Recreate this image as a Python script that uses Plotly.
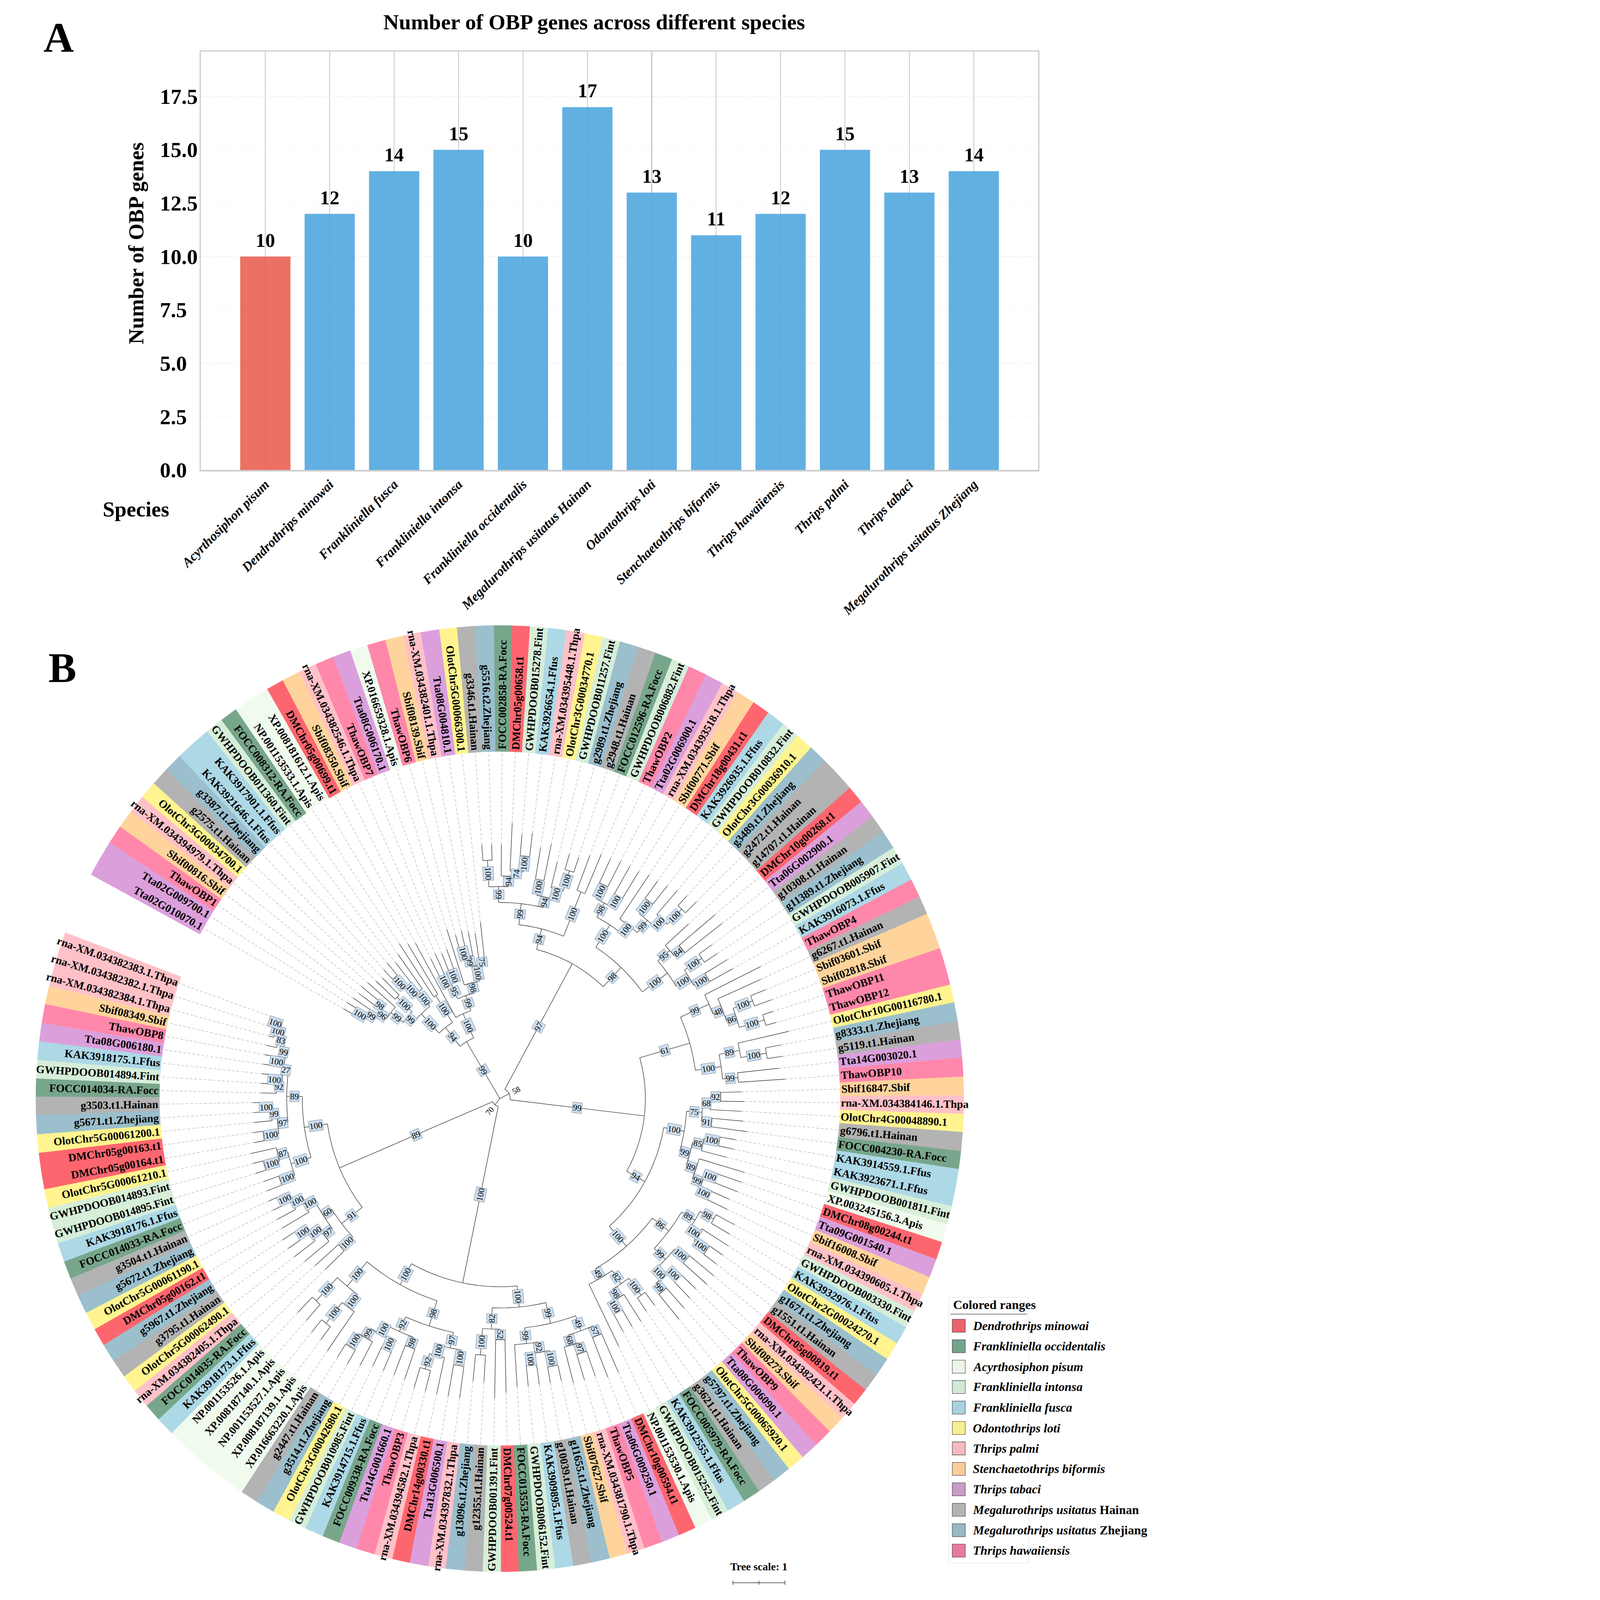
import math
import plotly.graph_objects as go

W, H = 4282, 5916

# ---------------- panel A data
species = ["Acyrthosiphon pisum", "Dendrothrips minowai", "Frankliniella fusca",
           "Frankliniella intonsa", "Frankliniella occidentalis",
           "Megalurothrips usitatus Hainan", "Odontothrips loti",
           "Stenchaetothrips biformis", "Thrips hawaiiensis", "Thrips palmi",
           "Thrips tabaci", "Megalurothrips usitatus Zhejiang"]
obp_counts = [10, 12, 14, 15, 10, 17, 13, 11, 12, 15, 13, 14]
value_ticks = [0.0, 2.5, 5.0, 7.5, 10.0, 12.5, 15.0, 17.5]

# ---------------- panel B data
leaf_names = [
    "Tta02G010070.1", "Tta02G009700.1", "ThawOBP1", "Sbif00816.Sbif", "rna-XM.034394979.1.Thpa",
    "OlotChr3G00034700.1", "g2575.t1.Hainan", "g3387.t1.Zhejiang", "KAK3921646.1.Ffus", "KAK3917901.1.Ffus",
    "GWHPDOOB011360.Fint", "FOCC008312-RA.Focc", "NP.001153533.1.Apis", "XP.008181612.1.Apis", "DMChr05g00699.t1",
    "Sbif08350.Sbif", "rna-XM.034382546.1.Thpa", "ThawOBP7", "Tta08G006170.1", "XP.016659328.1.Apis",
    "ThawOBP6", "Sbif08139.Sbif", "rna-XM.034382401.1.Thpa", "Tta08G004810.1", "OlotChr5G00066300.1",
    "g3346.t1.Hainan", "g5516.t2.Zhejiang", "FOCC002858-RA.Focc", "DMChr05g00658.t1", "GWHPDOOB015278.Fint",
    "KAK3926654.1.Ffus", "rna-XM.034395448.1.Thpa", "OlotChr3G00034770.1", "GWHPDOOB011257.Fint", "g2989.t1.Zhejiang",
    "g2948.t1.Hainan", "FOCC012596-RA.Focc", "GWHPDOOB006882.Fint", "ThawOBP2", "Tta02G006900.1",
    "rna-XM.034393518.1.Thpa", "Sbif00771.Sbif", "DMChr18g00431.t1", "KAK3926935.1.Ffus", "GWHPDOOB010832.Fint",
    "OlotChr3G00036910.1", "g3489.t1.Zhejiang", "g2472.t1.Hainan", "g14707.t1.Hainan", "DMChr10g00268.t1",
    "Tta06G002900.1", "g10308.t1.Hainan", "g11389.t1.Zhejiang", "GWHPDOOB005907.Fint", "KAK3916073.1.Ffus",
    "ThawOBP4", "g6267.t1.Hainan", "Sbif03601.Sbif", "Sbif02818.Sbif", "ThawOBP11",
    "ThawOBP12", "OlotChr10G00116780.1", "g8333.t1.Zhejiang", "g5119.t1.Hainan", "Tta14G003020.1",
    "ThawOBP10", "Sbif16847.Sbif", "rna-XM.034384146.1.Thpa", "OlotChr4G00048890.1", "g6796.t1.Hainan",
    "FOCC004230-RA.Focc", "KAK3914559.1.Ffus", "KAK3923671.1.Ffus", "GWHPDOOB001811.Fint", "XP.003245156.3.Apis",
    "DMChr08g00244.t1", "Tta09G001540.1", "Sbif16008.Sbif", "rna-XM.034390605.1.Thpa", "GWHPDOOB003330.Fint",
    "KAK3932976.1.Ffus", "OlotChr2G00024270.1", "g1671.t1.Zhejiang", "g1551.t1.Hainan", "DMChr05g00819.t1",
    "rna-XM.034382421.1.Thpa", "Sbif08273.Sbif", "ThawOBP9", "Tta08G006090.1", "OlotChr5G00065920.1",
    "g5797.t1.Zhejiang", "g3621.t1.Hainan", "FOCC005979-RA.Focc", "KAK3912555.1.Ffus", "GWHPDOOB015252.Fint",
    "NP.001153530.1.Apis", "DMChr10g00594.t1", "Tta06G009250.1", "ThawOBP5", "rna-XM.034381790.1.Thpa",
    "Sbif07627.Sbif", "g11655.t1.Zhejiang", "g10039.t1.Hainan", "KAK3909895.1.Ffus", "GWHPDOOB006152.Fint",
    "FOCC013553-RA.Focc", "DMChr07g00524.t1", "GWHPDOOB001391.Fint", "g12355.t1.Hainan", "g13096.t1.Zhejiang",
    "rna-XM.034397832.1.Thpa", "Tta13G006500.1", "DMChr14g00330.t1", "rna-XM.034394582.1.Thpa", "ThawOBP3",
    "Tta14G001660.1", "FOCC009338-RA.Focc", "KAK3914715.1.Ffus", "GWHPDOOB010985.Fint", "OlotChr3G00042680.1",
    "g3514.t1.Zhejiang", "g2447.t1.Hainan", "XP.016663220.1.Apis", "XP.008187139.1.Apis", "NP.001153527.1.Apis",
    "XP.008187140.1.Apis", "NP.001153526.1.Apis", "KAK3918173.1.Ffus", "FOCC014035-RA.Focc", "rna-XM.034382405.1.Thpa",
    "OlotChr5G00062490.1", "g3795.t1.Hainan", "g5967.t1.Zhejiang", "DMChr05g00162.t1", "OlotChr5G00061190.1",
    "g5672.t1.Zhejiang", "g3504.t1.Hainan", "FOCC014033-RA.Focc", "KAK3918176.1.Ffus", "GWHPDOOB014895.Fint",
    "GWHPDOOB014893.Fint", "OlotChr5G00061210.1", "DMChr05g00164.t1", "DMChr05g00163.t1", "OlotChr5G00061200.1",
    "g5671.t1.Zhejiang", "g3503.t1.Hainan", "FOCC014034-RA.Focc", "GWHPDOOB014894.Fint", "KAK3918175.1.Ffus",
    "Tta08G006180.1", "ThawOBP8", "Sbif08349.Sbif", "rna-XM.034382384.1.Thpa", "rna-XM.034382382.1.Thpa",
    "rna-XM.034382383.1.Thpa",
]

# tree topology, leaves are numbered by their position in leaf_names (1-based),
# branch lengths in tree units, internal labels = bootstrap support
og1_thrips = "((((1:0.2,2:0.2)100:0.25,3:0.4)99:0.15,(4:0.4,5:0.45)98:0.1)96:0.2,6:0.7)99"
og1_frank = "(((9:0.25,10:0.3)100:0.3,11:0.5)100:0.2,12:0.8)100"
og1_core = "((" + og1_thrips + ":0.3,(7:0.5,8:0.45)100:0.4)99:0.15," + og1_frank + ":0.35)100"
og1 = "(" + og1_core + ":0.5,(13:1.2,14:1.1)100:0.6)94"
og2 = ("(15:1.6,(((16:0.4,17:0.45)100:0.2,(18:0.35,19:0.4)100:0.25)95:0.3,(20:1.1,"
       "(((21:0.3,22:0.35)100:0.15,23:0.45)99:0.2,(24:0.5,25:0.7)75:0.1)100:0.3)98:0.2)99:0.3)100")
og3 = ("((((26:0.3,27:0.3)100:0.5,(28:0.6,(29:0.9,(30:0.4,31:0.45)100:0.3)74:0.1)94:0.2)99:0.3,"
       "((32:0.6,33:0.7)100:0.3,(34:0.5,(35:0.3,36:0.3)100:0.4)100:0.2)94:0.2)99:0.4,"
       "(37:0.7,38:0.8)100:0.9)94")
og4 = ("((((39:0.5,40:0.55)100:0.3,(41:0.6,42:0.6)100:0.25)98:0.3,(43:1.0,((44:0.4,45:0.45)100:0.3,"
       "(46:0.6,(47:0.25,48:0.3)100:0.4)100:0.2)99:0.3)100:0.2)100:0.5,((49:0.6,(50:0.9,51:0.9)84:0.2)95:0.3,"
       "((52:0.3,53:0.3)100:0.4,(54:0.5,55:0.5)100:0.3)100:0.3)100:0.6)98")
og5 = ("((56:1.2,(57:0.9,((58:0.3,59:0.35)100:0.4,(60:0.2,61:0.2)100:0.5)86:0.2)48:0.2)99:0.6,"
       "((62:1.0,(63:0.3,64:0.3)100:0.5)89:0.4,(65:0.8,66:0.9)99:0.3)100:0.5)61")
og6 = ("((((67:0.4,68:0.45)92:0.2,69:0.6)68:0.15,(70:0.6,71:0.7)91:0.2)75:0.3,"
       "(((72:0.3,73:0.3)100:0.3,74:0.5)85:0.2,(75:0.9,((76:0.5,77:0.5)100:0.2,"
       "(78:0.4,79:0.45)100:0.2)99:0.2)89:0.2)99:0.2)100")
og7 = ("((((80:0.4,81:0.4)98:0.3,(82:0.6,(83:0.3,84:0.3)100:0.3)100:0.2)89:0.3,((85:0.6,86:0.6)100:0.3,"
       "((87:0.4,88:0.45)100:0.2,(89:0.5,90:0.6)99:0.2)100:0.2)99:0.3)86:0.4,(((91:0.3,92:0.3)100:0.4,"
       "(93:0.6,(94:0.4,95:0.4)100:0.2)98:0.2)82:0.3,96:1.3)49:0.2)100")
og8 = ("((((97:0.8,98:0.8)57:0.2,((99:0.5,100:0.5)97:0.2,101:0.7)68:0.2)49:0.3,"
       "(((102:0.3,103:0.3)100:0.3,(104:0.4,105:0.4)100:0.2)92:0.2,106:0.8)99:0.3)99:0.4,"
       "((107:1.0,108:1.1)52:0.2,(109:0.5,110:0.5)100:0.5)82:0.4)100")
og9 = ("((((111:0.6,112:0.6)100:0.3,(113:0.7,(114:0.4,115:0.4)92:0.3)100:0.2)97:0.3,"
       "((116:0.6,117:0.6)98:0.2,((118:0.4,119:0.4)100:0.2,(120:0.5,(121:0.3,122:0.3)100:0.3)99:0.2)100:0.2)92:0.3)98:0.5,"
       "((123:0.9,(124:0.3,125:0.3)100:0.5)100:0.3,(126:0.4,127:0.4)100:0.6)100:0.6)100")
og10 = ("((128:0.5,129:0.6)100:0.3,((130:0.6,(131:0.5,(132:0.3,133:0.3)100:0.2)100:0.2)97:0.2,"
        "(134:0.6,(135:0.4,(136:0.2,137:0.2)100:0.2)100:0.2)100:0.2)60:0.2)91")
og11 = ("(((138:0.3,139:0.3)100:0.3,((140:0.2,141:0.2)100:0.3,142:0.5)87:0.2)100:0.4,"
        "(((143:0.2,144:0.2)100:0.3,(145:0.35,(146:0.15,147:0.15)100:0.2)99:0.1)97:0.2,"
        "((148:0.3,(149:0.2,150:0.2)100:0.1)92:0.1,((151:0.2,152:0.2)100:0.1,"
        "(153:0.2,(154:0.1,(155:0.05,156:0.05)100:0.1)100:0.1)83:0.1)99:0.1)27:0.1)89:0.3)100")
tree_newick = ("((" + og1 + ":0.45," + og2 + ":0.5)99:1.25,"
               "((" + og3 + ":0.4," + og4 + ":0.5)97:2.7,"
               "(" + og5 + ":1.0,(" + og6 + ":0.4," + og7 + ":0.5)94:0.4)99:2.6)58:0.2,"
               "((" + og8 + ":0.4," + og9 + ":0.45)100:3.4,"
               "(" + og10 + ":0.5," + og11 + ":0.45)89:3.2)70:0.15);")

legend_names = ["<i>Dendrothrips minowai</i>", "<i>Frankliniella occidentalis</i>",
                "<i>Acyrthosiphon pisum</i>", "<i>Frankliniella intonsa</i>",
                "<i>Frankliniella fusca</i>", "<i>Odontothrips loti</i>", "<i>Thrips palmi</i>",
                "<i>Stenchaetothrips biformis</i>", "<i>Thrips tabaci</i>",
                "<i>Megalurothrips usitatus</i> Hainan", "<i>Megalurothrips usitatus</i> Zhejiang",
                "<i>Thrips hawaiiensis</i>"]
band_colors = ["#fe666f", "#78a68b", "#f0fbee", "#d7eed9", "#add8e6", "#fff48f",
               "#ffc1c8", "#fed49c", "#dba0dc", "#b3b3b3", "#9bbfcd", "#ff88aa"]
legend_colors = ["#ea646e", "#73a38a", "#edf5ea", "#d3e8d4", "#a9d1df", "#f4ef90",
                 "#f3bbbd", "#f6cd9b", "#c99bc6", "#b3b3b3", "#97b8c6", "#e97a9f"]


def species_of(name):
    if name.startswith("DMChr"):
        return 0
    if name.startswith("FOCC"):
        return 1
    if name.endswith(".Apis"):
        return 2
    if name.endswith(".Fint"):
        return 3
    if name.endswith(".Ffus"):
        return 4
    if name.startswith("Olot"):
        return 5
    if name.endswith(".Thpa"):
        return 6
    if name.endswith(".Sbif"):
        return 7
    if name.startswith("Tta"):
        return 8
    if name.endswith(".Hainan"):
        return 9
    if name.endswith(".Zhejiang"):
        return 10
    return 11


# Times bold advance widths (per 1000 em), used to centre rotated labels
TB = dict(zip("ABCDEFGHIJKLMNOPQRSTUVWXYZ",
              [722, 667, 722, 722, 667, 611, 778, 778, 389, 500, 778, 667, 944,
               722, 778, 611, 778, 722, 556, 667, 722, 722, 1000, 722, 722, 667]))
TB.update(zip("abcdefghijklmnopqrstuvwxyz",
              [500, 556, 444, 556, 444, 333, 500, 556, 278, 333, 556, 278, 833,
               556, 500, 556, 556, 444, 389, 333, 556, 500, 722, 500, 500, 444]))
TB.update({".": 250, "-": 333, "_": 500, " ": 250})


def text_w(s, size):
    return sum(TB.get(c, 500) for c in s) / 1000.0 * size


def parse_newick(s):
    pos = 0

    def node():
        nonlocal pos
        n = {"children": [], "len": 0.0, "label": ""}
        if s[pos] == "(":
            pos += 1
            while True:
                n["children"].append(node())
                if s[pos] == ",":
                    pos += 1
                    continue
                pos += 1
                break
        start = pos
        while s[pos] not in ":,);":
            pos += 1
        n["label"] = s[start:pos]
        if s[pos] == ":":
            pos += 1
            start = pos
            while s[pos] not in ",);":
                pos += 1
            n["len"] = float(s[start:pos])
        return n

    return node()


# ---------------- geometry of the circular tree
CX, CY = 1800, 4062
R_IN, R_OUT, R_TEXT = 1283, 1750, 1291
PX_UNIT = 196
ARC_START, ARC_SPAN = 150.6, 350.0
n_leaf = len(leaf_names)
step = ARC_SPAN / (n_leaf - 1)
leaf_angle = [ARC_START - i * step for i in range(n_leaf)]


def pt(r, a):
    t = math.radians(a)
    return CX + r * math.cos(t), CY - r * math.sin(t)


def radial_angle(a):
    ang = -a if math.cos(math.radians(a)) >= 0 else 180 - a
    while ang > 180:
        ang -= 360
    while ang <= -180:
        ang += 360
    return ang


root = parse_newick(tree_newick)
nodes = []


def place(n, depth, pdepth):
    n["d"], n["pd"] = depth, pdepth
    nodes.append(n)
    if not n["children"]:
        n["a"] = leaf_angle[int(n["label"]) - 1]
    else:
        for c in n["children"]:
            place(c, depth + c["len"], depth)
        n["a"] = (n["children"][0]["a"] + n["children"][-1]["a"]) / 2


place(root, 0.0, 0.0)

fig = go.Figure()

# colored ranges
for k, col in enumerate(band_colors):
    bx, by = [], []
    for i, nm in enumerate(leaf_names):
        if species_of(nm) != k:
            continue
        a0, a1 = leaf_angle[i] + step / 2 + 0.03, leaf_angle[i] - step / 2 - 0.03
        m = 8
        for j in range(m + 1):
            x, y = pt(R_OUT, a0 + (a1 - a0) * j / m)
            bx.append(x); by.append(y)
        for j in range(m + 1):
            x, y = pt(R_IN, a1 + (a0 - a1) * j / m)
            bx.append(x); by.append(y)
        bx.append(None); by.append(None)
    fig.add_trace(go.Scatter(x=bx, y=by, xaxis="x2", yaxis="y2", mode="lines",
                             fill="toself", fillcolor=col, line=dict(width=0),
                             hoverinfo="skip"))

# branches and dashed leaf connectors
lx, ly, dx, dy = [], [], [], []
for n in nodes:
    if n is not root:
        x0, y0 = pt(n["pd"] * PX_UNIT, n["a"])
        x1, y1 = pt(n["d"] * PX_UNIT, n["a"])
        lx += [x0, x1, None]; ly += [y0, y1, None]
    if n["children"]:
        a0, a1 = n["children"][0]["a"], n["children"][-1]["a"]
        m = max(2, int(abs(a0 - a1) / 0.4) + 1)
        for j in range(m + 1):
            x, y = pt(n["d"] * PX_UNIT, a0 + (a1 - a0) * j / m)
            lx.append(x); ly.append(y)
        lx.append(None); ly.append(None)
    else:
        x0, y0 = pt(n["d"] * PX_UNIT, n["a"])
        x1, y1 = pt(R_IN, n["a"])
        dx += [x0, x1, None]; dy += [y0, y1, None]

fig.add_trace(go.Scatter(x=dx, y=dy, xaxis="x2", yaxis="y2", mode="lines",
                         line=dict(color="#b5b5b5", width=1.8, dash="10px,7px"),
                         hoverinfo="skip"))
fig.add_trace(go.Scatter(x=lx, y=ly, xaxis="x2", yaxis="y2", mode="lines",
                         line=dict(color="#3a3a3a", width=2.0), hoverinfo="skip"))

# ---------------- panel A bars
bar_colors = ["rgba(233,92,78,0.88)"] + ["rgba(76,165,222,0.88)"] * (len(species) - 1)
fig.add_trace(go.Bar(x=species, y=obp_counts, marker_color=bar_colors, width=0.78,
                     marker_line_width=0, xaxis="x", yaxis="y", hoverinfo="skip"))

ann = []
serif = "Liberation Serif"
for sp, v in zip(species, obp_counts):
    ann.append(dict(x=sp, y=v, xref="x", yref="y", text="<b>%d</b>" % v, showarrow=False,
                    yanchor="bottom", yshift=18, font=dict(family=serif, size=72, color="black")))
for t in value_ticks:
    ann.append(dict(x=516 / W, y=t, xref="paper", yref="y", text="<b>%.1f</b>" % t,
                    showarrow=False, xanchor="left", yanchor="middle",
                    font=dict(family=serif, size=80, color="black")))


def pix(x, y, text, size, **kw):
    d = dict(x=x, y=y, xref="x2", yref="y2", text=text, showarrow=False,
             font=dict(family=serif, size=size, color="black"))
    d.update(kw)
    ann.append(d)


pix(2156, 81, "<b>Number of OBP genes across different species</b>", 80)
pix(137, 140, "<b>A</b>", 155)
pix(150, 2470, "<b>B</b>", 155)
pix(428, 899, "<b>Number of OBP genes</b>", 79, textangle=-90)
pix(428, 1882, "<b>Species</b>", 79)

# leaf labels
for i, nm in enumerate(leaf_names):
    a = leaf_angle[i]
    x, y = pt(R_TEXT + text_w(nm, 41) / 2, a)
    pix(x, y, "<b>%s</b>" % nm, 41, textangle=radial_angle(a))

# bootstrap values
for n in nodes:
    if not n["children"] or n is root or not n["label"]:
        continue
    if n["d"] * PX_UNIT < 110:
        x, y = pt(n["d"] * PX_UNIT + 30, n["a"])
        pix(x, y, n["label"], 30, textangle=radial_angle(n["a"]))
        continue
    r = (n["pd"] + n["d"]) / 2 * PX_UNIT
    x, y = pt(r, n["a"])
    pix(x, y, n["label"], 32, textangle=radial_angle(n["a"]), bgcolor="#cddff0",
        bordercolor="#4d5b6a", borderwidth=1, borderpad=1)

# tree scale
pix(2777, 5792, "<b>Tree scale: 1</b>", 40)
shapes = [
    dict(type="line", xref="x2", yref="y2", x0=2679, x1=2679 + PX_UNIT, y0=5852, y1=5852,
         line=dict(color="#333333", width=2)),
]
for tx in (2679, 2679 + PX_UNIT / 2, 2679 + PX_UNIT):
    shapes.append(dict(type="line", xref="x2", yref="y2", x0=tx, x1=tx, y0=5844, y1=5860,
                       line=dict(color="#333333", width=2)))

# legend
shapes.append(dict(type="rect", xref="x2", yref="y2", x0=3493, x1=3794, y0=4797, y1=5780,
                   line=dict(color="#e6e6e6", width=2)))
shapes.append(dict(type="line", xref="x2", yref="y2", x0=3499, x1=3788, y0=4859, y1=4859,
                   line=dict(color="#333333", width=2)))
pix(3507, 4824, "<b>Colored ranges</b>", 47, xanchor="left")
for k, (nm, col) in enumerate(zip(legend_names, legend_colors)):
    yc = 4902 + k * 75.6
    shapes.append(dict(type="rect", xref="x2", yref="y2", x0=3506, x1=3555, y0=yc - 24, y1=yc + 24,
                       fillcolor=col, line=dict(color="#333333", width=1.5)))
    pix(3581, yc, "<b>%s</b>" % nm, 46, xanchor="left")

fig.update_layout(
    width=W, height=H, margin=dict(l=0, r=0, t=0, b=0),
    paper_bgcolor="white", plot_bgcolor="rgba(0,0,0,0)", showlegend=False,
    font=dict(family=serif, color="black"),
    xaxis=dict(domain=[673 / W, 3830 / W], range=[-1, 12], type="category", anchor="y",
               tickangle=-45, ticks="",
               tickfont=dict(family=serif, size=49, color="black", weight="bold", style="italic"),
               showgrid=True, gridcolor="#c8c8c8", gridwidth=3,
               showline=True, linecolor="#cccccc", linewidth=5, mirror=True),
    yaxis=dict(domain=[1 - 1738 / H, 1 - 191 / H], range=[0, 19.6], anchor="x",
               tick0=0, dtick=2.5, showticklabels=False, ticks="",
               showgrid=True, gridcolor="#ececec", gridwidth=2, griddash="dash",
               zeroline=False, showline=True, linecolor="#cccccc", linewidth=5, mirror=True),
    xaxis2=dict(domain=[0, 1], range=[0, W], visible=False, anchor="y2"),
    yaxis2=dict(domain=[0, 1], range=[H, 0], visible=False, anchor="x2"),
    annotations=ann, shapes=shapes,
)

# shrink the page to the window if the window is smaller than the figure
fit_js = """
document.body.style.margin = '0';
document.documentElement.style.overflow = 'hidden';
var gd = document.getElementById('{plot_id}');
var s = Math.min(window.innerWidth / %d, window.innerHeight / %d);
if (s < 1) { gd.style.transformOrigin = '0 0'; gd.style.transform = 'scale(' + s + ')'; }
""" % (W, H)

fig.write_html("out.html", post_script=fit_js, config={"displayModeBar": False})
